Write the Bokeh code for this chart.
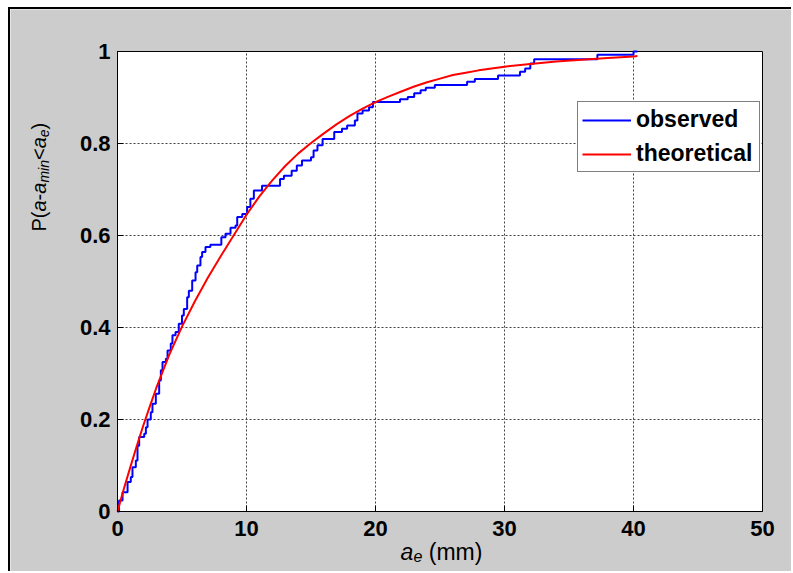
import math
from bokeh.plotting import figure
from bokeh.models import Range1d, FixedTicker, Legend, LegendItem, LinearAxis
from bokeh.core.properties import value
from bokeh.embed import file_html
from bokeh.resources import INLINE

# ---------------- data ----------------
# observed empirical CDF: step positions (mm) and levels after each step
obs_x = [0.0, 0.12, 0.39, 0.78, 1.03, 1.16, 1.42, 1.55, 1.68, 2.07, 2.20, 2.33, 2.58, 2.71,
         2.97, 3.23, 3.36, 3.49, 3.75, 3.88, 4.13, 4.26, 4.50, 4.75, 5.00, 5.14, 5.40, 5.53,
         5.79, 6.05, 6.18, 6.43, 6.56, 6.82, 7.20, 8.05, 8.37, 8.76, 9.15, 9.28, 9.67, 10.05,
         10.30, 10.57, 11.20, 12.60, 12.90, 13.50, 13.90, 14.30, 15.00, 15.20, 15.50, 15.90,
         16.80, 17.40, 17.80, 18.40, 18.60, 19.00, 19.50, 19.80, 21.90, 22.50, 23.00, 23.50,
         23.90, 24.60, 27.10, 27.70, 29.50, 31.20, 31.60, 32.00, 32.30, 37.20, 40.00, 40.30]
obs_y = [0.0, 0.024, 0.042, 0.064, 0.075, 0.096, 0.111, 0.143, 0.162, 0.169, 0.183, 0.200,
         0.216, 0.234, 0.256, 0.285, 0.307, 0.325, 0.332, 0.350, 0.365, 0.383, 0.390, 0.408,
         0.426, 0.440, 0.466, 0.480, 0.502, 0.520, 0.535, 0.553, 0.564, 0.575, 0.580, 0.596,
         0.604, 0.617, 0.622, 0.640, 0.647, 0.662, 0.680, 0.698, 0.708, 0.723, 0.730, 0.741,
         0.752, 0.763, 0.770, 0.785, 0.796, 0.810, 0.825, 0.832, 0.839, 0.850, 0.865, 0.872,
         0.879, 0.890, 0.896, 0.901, 0.909, 0.916, 0.921, 0.927, 0.934, 0.940, 0.948, 0.956,
         0.963, 0.974, 0.983, 0.993, 1.000, 1.000]

# theoretical CDF
theo_x = [0, 0.5, 1, 1.5, 2, 2.5, 3, 4, 5, 6, 7, 8, 9, 10, 11, 12, 13, 14, 15, 16, 17, 18,
          19, 20, 21, 22, 23, 24, 25, 26, 27, 28, 30, 32, 34, 36, 38, 40, 40.3]
theo_y = [0.0, 0.050, 0.097, 0.143, 0.187, 0.228, 0.268, 0.340, 0.402, 0.457, 0.508, 0.555,
          0.600, 0.645, 0.685, 0.720, 0.751, 0.778, 0.801, 0.822, 0.842, 0.860, 0.876, 0.890,
          0.902, 0.913, 0.924, 0.933, 0.941, 0.949, 0.954, 0.959, 0.967, 0.973, 0.978, 0.982,
          0.986, 0.989, 0.990]

series_names = ["observed", "theoretical"]
xticks = [0, 10, 20, 30, 40, 50]
xtick_labels = ["0", "10", "20", "30", "40", "50"]
yticks = [0, 0.2, 0.4, 0.6, 0.8, 1]
ytick_labels = ["0", "0.2", "0.4", "0.6", "0.8", "1"]

# ---------------- layout constants ----------------
FONT = "Liberation Sans"
GRAY = "#CCCCCC"
XMIN, XMAX, YMIN, YMAX = 0, 50, 0, 1
# where the axes box sits on the page, and where the canvas sits on the page
BOX_L, BOX_R, BOX_T, BOX_B = 117, 762, 51, 511
CAN_L, CAN_T, CAN_W, CAN_H = 10, 9, 783, 564
XPP = (XMAX - XMIN) / (BOX_R - BOX_L)
YPP = (YMAX - YMIN) / (BOX_B - BOX_T)

def to_data(px, py):
    return XMIN + (px - BOX_L) * XPP, YMIN + (BOX_B - py) * YPP

x_lo, y_hi = to_data(CAN_L, CAN_T)
x_hi, y_lo = to_data(CAN_L + CAN_W, CAN_T + CAN_H)

p = figure(width=CAN_W, height=CAN_H, output_backend="svg", toolbar_location=None,
           x_range=Range1d(x_lo, x_hi), y_range=Range1d(y_lo, y_hi),
           x_axis_location=None, y_axis_location=None,
           min_border=0, min_border_left=0, min_border_right=0,
           min_border_top=0, min_border_bottom=0,
           border_fill_color=GRAY, background_fill_color=GRAY,
           outline_line_color=None,
           margin=(7, 0, 0, 8),
           styles={"border-left": "2px solid black", "border-top": "2px solid black"})
p.grid.visible = False

# axes box (white) and dotted grid
p.quad(left=[XMIN], right=[XMAX], bottom=[YMIN], top=[YMAX],
       fill_color="white", line_color=None)
gx = [t for t in xticks if XMIN < t < XMAX]
gy = [t for t in yticks if YMIN < t < YMAX]
p.segment(x0=gx, y0=[YMIN] * len(gx), x1=gx, y1=[YMAX] * len(gx),
          line_color="#404040", line_width=1, line_dash="2 2")
p.segment(x0=[XMIN] * len(gy), y0=gy, x1=[XMAX] * len(gy), y1=gy,
          line_color="#404040", line_width=1, line_dash="2 2")
p.quad(left=[XMIN], right=[XMAX], bottom=[YMIN], top=[YMAX],
       fill_color=None, line_color="black", line_width=1)

r_obs = p.step(obs_x, obs_y, mode="after", line_color="#0000FF", line_width=2)
r_theo = p.line(theo_x, theo_y, line_color="#FF0000", line_width=2)

# axes anchored at the data origin
xa = LinearAxis(fixed_location=YMIN, bounds=(XMIN, XMAX), ticker=FixedTicker(ticks=xticks),
                major_label_overrides={t: l for t, l in zip(xticks, xtick_labels)},
                major_label_standoff=9)
ya = LinearAxis(fixed_location=XMIN, bounds=(YMIN, YMAX), ticker=FixedTicker(ticks=yticks),
                major_label_overrides={t: l for t, l in zip(yticks, ytick_labels)},
                major_label_standoff=7)
for ax in (xa, ya):
    ax.major_label_text_font = FONT
    ax.major_label_text_font_style = "bold"
    ax.major_label_text_font_size = "22px"
    ax.major_label_text_color = "black"
    ax.axis_line_color = "black"
    ax.major_tick_line_color = "black"
    ax.major_tick_in = 6
    ax.major_tick_out = 0
    ax.minor_tick_line_color = None
p.add_layout(xa, "below")
p.add_layout(ya, "left")

# legend (location measured from the canvas' bottom-left corner)
leg_left, leg_bottom = 577, 172
legend = Legend(items=[LegendItem(label=series_names[0], renderers=[r_obs]),
                       LegendItem(label=series_names[1], renderers=[r_theo])],
                location=(leg_left - CAN_L, CAN_T + CAN_H - leg_bottom),
                orientation="vertical",
                label_text_font=FONT, label_text_font_style="bold",
                label_text_font_size="23px", label_text_color="black",
                glyph_width=49, glyph_height=26, label_height=26, label_width=119,
                spacing=7, padding=4, margin=0, label_standoff=5,
                border_line_color="black", border_line_width=1,
                background_fill_color="white", background_fill_alpha=1.0)
p.add_layout(legend)

# axis titles composed of pieces (italic variables, subscripts)
EM = {"P": .667, "(": .333, ")": .333, "a": .556, "-": .333, "<": .584, "m": .833,
      "i": .222, "n": .556, "e": .556, " ": .278}

def width(s, size):
    return sum(EM.get(c, .556) for c in s) * size

def piece(px, py, txt, size, style, angle):
    dx, dy = to_data(px, py)
    p.text(x=[dx], y=[dy], text=[txt], angle=angle, text_font=value(FONT),
           text_font_size=value(f"{size}px"), text_font_style=value(style),
           text_color="black", text_align=value("left"), text_baseline=value("alphabetic"))

# y label: rotated, reading bottom to top
ypieces = [("P(", 20, "normal", 0, 0), ("a", 20, "italic", 0, 0), ("-", 20, "normal", 0, 0),
           ("a", 20, "italic", 0, 0), ("min", 14, "italic", 1, 0), ("<", 20, "normal", 0, 0),
           ("a", 20, "italic", 0, 0), ("e", 14, "italic", 1, 0), (")", 20, "normal", 0, 0)]
base_x, sub_shift, start_y = 38.5, 4.5, 231.0
d = 0.0
for txt, size, style, sub, gap in ypieces:
    d += gap
    piece(base_x + sub_shift * sub, start_y - d, txt, size, style, math.pi / 2)
    d += width(txt, size)

# x label ("a" italic, subscript "e", then "(mm)" after a word gap)
xpieces = [("a", 23, "italic", 0, 0), ("e", 16, "italic", 1, 0), ("(mm)", 23, "normal", 0, 6.5)]
total = sum(width(t, s) + g for t, s, _, _, g in xpieces)
start_x = (BOX_L + BOX_R) / 2 + 1.5 - total / 2
base_y = 551.0
for txt, size, style, sub, gap in xpieces:
    start_x += gap
    piece(start_x, base_y + 4.5 * sub, txt, size, style, 0)
    start_x += width(txt, size)

open("out.html", "w").write(file_html(p, INLINE))
